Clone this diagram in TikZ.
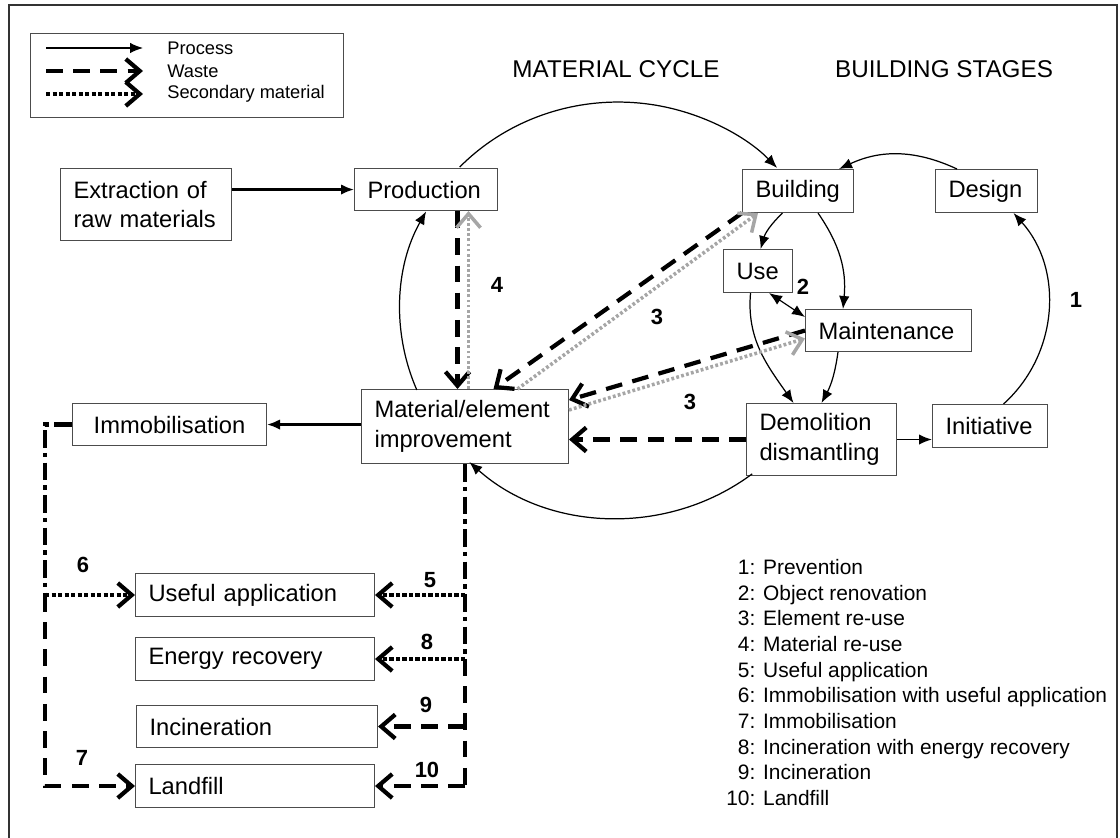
\documentclass[tikz,border=0pt]{standalone}
\usepackage{fontspec}
\setmainfont{Liberation Sans}
\usetikzlibrary{arrows.meta}

\tikzset{
  box/.style={draw=black!70, line width=0.6pt, anchor=north west, inner xsep=0.26cm, inner ysep=0pt, align=left, font=\fontsize{13.5}{17}\selectfont},
  proc/.style={line width=0.7pt, -{Latex[length=2.6mm,width=2.1mm]}},
  wasteline/.style={line width=2.4pt, dash pattern=on 9.5pt off 6pt},
  waste/.style={wasteline, -{Straight Barb[length=2.8mm,width=4.8mm]}},
  second/.style={line width=2.4pt, dash pattern=on 2.4pt off 1.3pt, -{Straight Barb[length=2.8mm,width=4.8mm]}},
  reuse/.style={second, draw=black!35, line width=2pt, dash pattern=on 1.6pt off 1.3pt},
  mixed/.style={line width=2.4pt, dash pattern=on 10pt off 3pt on 2.5pt off 3pt},
  lbl/.style={font=\bfseries\fontsize{12.5}{15}\selectfont, inner sep=0pt},
  keytext/.style={anchor=west, inner sep=0pt, font=\fontsize{10.4}{12}\selectfont},
  heading/.style={font=\fontsize{13.8}{16}\selectfont},
}

\begin{document}
\begin{tikzpicture}[x=0.02cm,y=0.02cm]
    % Frame
    \useasboundingbox (0,0) rectangle (1120,-838);
    \draw[line width=1.1pt, black!80] (9,-838) -- (9,-5) -- (1117,-5) -- (1117,-838);

    % Key
    \node[draw=black!70, line width=0.6pt, anchor=north west, minimum width=6.26cm, minimum height=1.68cm, inner sep=0pt] (key) at (30,-33) {};
    \coordinate (k1a) at (46,-48);  \coordinate (k1b) at (143,-48);
    \coordinate (k2a) at (46,-71);  \coordinate (k2b) at (143,-71);
    \coordinate (k3a) at (46,-94);  \coordinate (k3b) at (143,-94);
    \draw[proc] (k1a) -- (k1b);
    \draw[waste] (k2a) -- (k2b);
    \draw[second] (k3a) -- (k3b);
    \node[keytext] (kt1) at (167,-48) {Process};
    \node[keytext] (kt2) at (167,-71) {Waste};
    \node[keytext] (kt3) at (167,-94) {Secondary material};

    % Headings
    \node[heading] (tmat) at (616,-69) {MATERIAL CYCLE};
    \node[heading] (tbuild) at (944,-69) {BUILDING STAGES};

    % Material cycle boxes
    \node[box, text width=2.9cm, minimum height=1.44cm] (extract) at (60,-168) {Extraction of\\raw materials};
    \node[box, text width=2.34cm, minimum height=0.84cm] (prod) at (354,-168) {Production};
    \node[box, text width=3.62cm, minimum height=1.48cm] (mat) at (361,-389) {Material/element\\improvement};

    % Building stage boxes
    \node[box, text width=1.7cm, minimum height=0.86cm] (build) at (742,-169) {Building};
    \node[box, text width=1.52cm, minimum height=0.86cm] (design) at (935,-169) {Design};
    \node[box, text width=0.86cm, minimum height=0.86cm] (use) at (723,-249) {Use};
    \node[box, text width=2.8cm, minimum height=0.84cm] (maint) at (805,-309) {Maintenance};
    \node[box, text width=2.48cm, minimum height=1.44cm] (demol) at (746,-403) {Demolition\\dismantling};
    \node[box, text width=1.78cm, minimum height=0.86cm] (init) at (932,-404) {Initiative};

    % End of life boxes
    \node[box, text width=3.36cm, minimum height=0.84cm, align=center] (immob) at (72,-403) {Immobilisation};
    \node[box, text width=4.26cm, minimum height=0.86cm] (useful) at (135,-573) {Useful application};
    \node[box, text width=4.26cm, minimum height=0.86cm] (energy) at (135,-637) {Energy recovery};
    \node[box, text width=4.3cm, minimum height=0.84cm] (incin) at (136,-705) {Incineration};
    \node[box, text width=4.26cm, minimum height=0.86cm] (landfill) at (135,-764) {Landfill};

    % Material cycle
    \coordinate (cyc) at (618,-310);
    \draw[proc] (cyc) ++(136.6:4.36cm and 4.16cm) arc[start angle=136.6, end angle=43.1, x radius=4.36cm, y radius=4.16cm];
    \draw[proc] (cyc) ++(202.6:4.36cm and 4.16cm) arc[start angle=202.6, end angle=151.7, x radius=4.36cm, y radius=4.16cm];
    \draw[proc] (cyc) ++(308:4.36cm and 4.16cm) arc[start angle=308, end angle=227, x radius=4.36cm, y radius=4.16cm];
    \draw[proc, line width=1.3pt] (extract.east |- prod.west) -- (prod.west);

    % Building stages
    \draw[proc] ([xshift=0.44cm]design.north west) to[bend right=25] ([xshift=-0.3cm]build.north east);
    \draw[proc] ([xshift=0.27cm]init.north) to[bend right=45] ([xshift=0.54cm]design.south);
    \draw[proc] ([xshift=-0.31cm]build.south) to[bend right=15] ([xshift=0.05cm]use.north);
    \draw[proc] ([xshift=0.4cm]build.south) to[bend left=20] ([xshift=0.76cm]maint.north west);
    \draw[proc, {Latex[length=2.6mm,width=2.1mm]}-{Latex[length=2.6mm,width=2.1mm]}] ([xshift=-0.48cm]use.south east) -- ([yshift=-0.16cm]maint.north west);
    \draw[proc] ([xshift=-0.15cm]use.south) to[out=-95, in=125] ([xshift=-0.56cm]demol.north);
    \draw[proc] ([xshift=0.66cm]maint.south west) to[bend left=10] (demol.north);
    \draw[proc, line width=1pt] (demol.east) -- (demol.east -| init.west);

    % Waste and re-use
    \draw[waste] ([xshift=-0.15cm]mat.north |- prod.south) -- ([xshift=-0.15cm]mat.north);
    \draw[reuse] ([xshift=0.07cm]mat.north) -- ([xshift=0.07cm]mat.north |- prod.south);
    \draw[waste] (build.south west) -- ([xshift=0.57cm]mat.north);
    \draw[reuse] ([xshift=1.05cm]mat.north) -- ([xshift=0.32cm]build.south west);
    \draw[waste] (maint.west) -- ([yshift=-0.22cm]mat.north east);
    \draw[reuse] ([yshift=-0.42cm]mat.north east) -- ([yshift=-0.16cm]maint.west);
    \draw[waste] (demol.west) -- (demol.west -| mat.east);

    % End of life
    \draw[proc, line width=1.3pt] (mat.west |- immob.east) -- (immob.east);
    \coordinate (lrail) at ([xshift=-0.54cm]immob.west);
    \draw[mixed] (immob.west) -| (lrail |- useful.west);
    \draw[waste] (lrail |- useful.west) |- (landfill.west);
    \draw[second] (lrail |- useful.west) -- (useful.west);
    \draw[mixed] (mat.south) -- (mat.south |- energy.east);
    \draw[wasteline] (mat.south |- energy.east) -- (mat.south |- landfill.east);
    \draw[second] (mat.south |- useful.east) -- (useful.east);
    \draw[second] (mat.south |- energy.east) -- (energy.east);
    \draw[waste] (mat.south |- incin.east) -- (incin.east);
    \draw[waste] (mat.south |- landfill.east) -- (landfill.east);

    % Numbers
    \node[lbl] (n1) at (1076,-300) {1};
    \node[lbl] (n2) at (803,-287) {2};
    \node[lbl] (n3a) at (657,-317) {3};
    \node[lbl] (n3b) at (690,-402) {3};
    \node[lbl] (n4) at (497,-285) {4};
    \node[lbl] (n5) at (430,-580) {5};
    \node[lbl] (n6) at (83,-565) {6};
    \node[lbl] (n7) at (82,-758) {7};
    \node[lbl] (n8) at (427,-642) {8};
    \node[lbl] (n9) at (426,-705) {9};
    \node[lbl] (n10) at (427,-770) {10};

    % Levels
    \node[anchor=north west, inner sep=0pt, align=left, font=\fontsize{11.9}{14.6}\selectfont] (levels) at (726,-559)
        {\phantom{0}1: Prevention\\
         \phantom{0}2: Object renovation\\
         \phantom{0}3: Element re-use\\
         \phantom{0}4: Material re-use\\
         \phantom{0}5: Useful application\\
         \phantom{0}6: Immobilisation with useful application\\
         \phantom{0}7: Immobilisation\\
         \phantom{0}8: Incineration with energy recovery\\
         \phantom{0}9: Incineration\\
         10: Landfill};
\end{tikzpicture}
\end{document}
